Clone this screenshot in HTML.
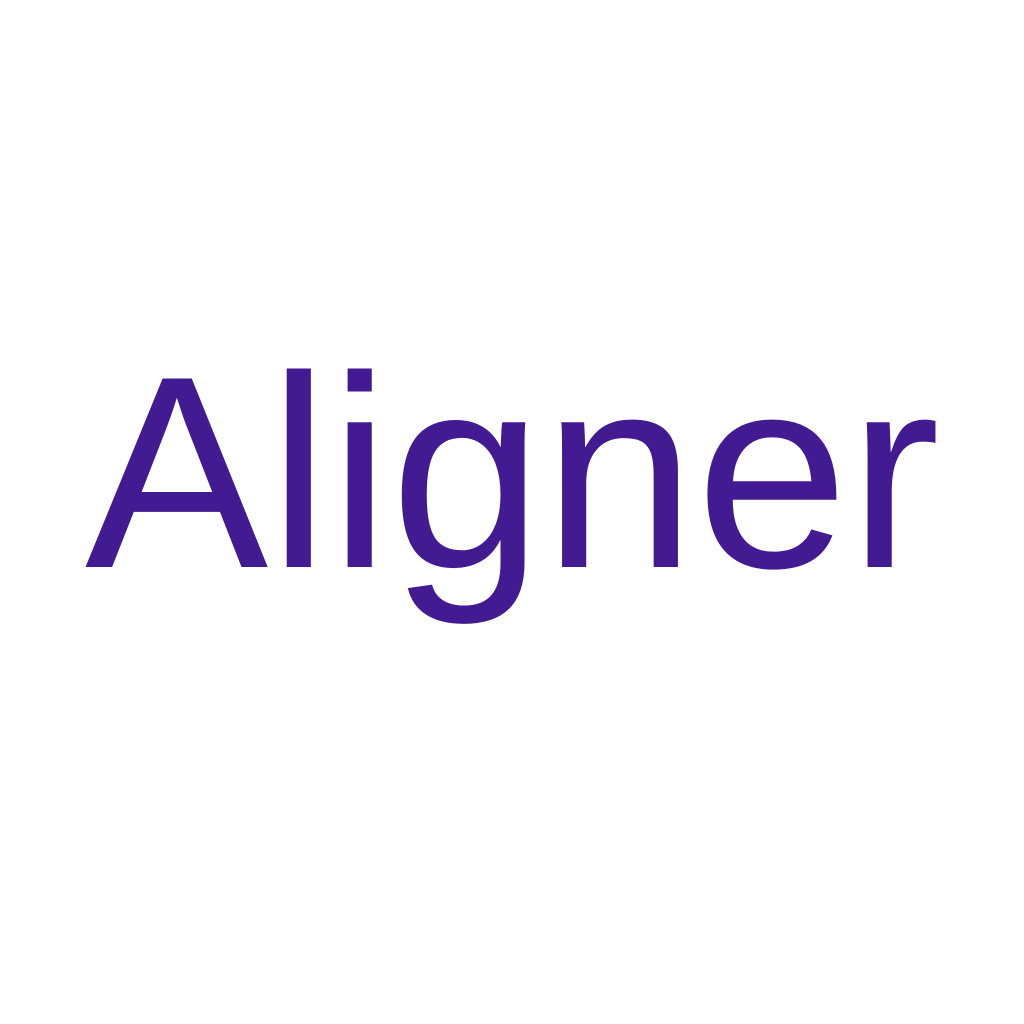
<!DOCTYPE html>
<html>
<head>
<meta charset="utf-8">
<style>
  html, body { margin: 0; padding: 0; background: #ffffff; }
  svg { display: block; }
</style>
</head>
<body>
<svg width="1024" height="1024" viewBox="0 0 1024 1024">
  <rect x="0" y="0" width="1024" height="1024" fill="#ffffff"/>
  <text x="85" y="567" font-family="'Liberation Sans', 'DejaVu Sans', sans-serif" font-size="274" fill="#421a92" textLength="855" lengthAdjust="spacingAndGlyphs">Aligner</text>
</svg>
</body>
</html>
